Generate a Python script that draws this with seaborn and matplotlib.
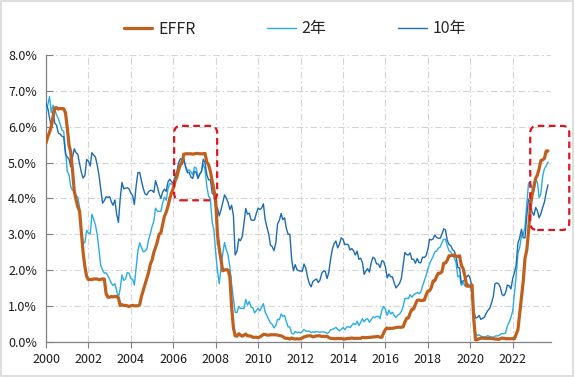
import numpy as np
import pandas as pd
import matplotlib
matplotlib.use("Agg")
import matplotlib.pyplot as plt
import matplotlib.dates as mdates
from matplotlib.patches import FancyBboxPatch, Rectangle
from matplotlib.ticker import FuncFormatter, MultipleLocator
import seaborn as sns

# monthly, Jan 2000 .. Sep 2023 (%)
months = pd.date_range("2000-01-01", "2023-09-01", freq="MS")

effr = [
    5.55, 5.73, 5.85, 6.02, 6.27, 6.53, 6.54, 6.50, 6.52, 6.51, 6.51, 6.40,
    5.98, 5.49, 5.31, 4.80, 4.21, 3.97, 3.77, 3.65, 3.07, 2.49, 2.09, 1.82,
    1.73, 1.74, 1.73, 1.75, 1.75, 1.75, 1.73, 1.74, 1.75, 1.75, 1.34, 1.24,
    1.24, 1.26, 1.25, 1.26, 1.26, 1.22, 1.01, 1.03, 1.01, 1.01, 1.00, 0.98,
    1.00, 1.01, 1.00, 1.00, 1.00, 1.03, 1.26, 1.43, 1.61, 1.76, 1.93, 2.16,
    2.28, 2.50, 2.63, 2.79, 3.00, 3.04, 3.26, 3.50, 3.62, 3.78, 4.00, 4.16,
    4.29, 4.49, 4.59, 4.79, 4.94, 4.99, 5.24, 5.25, 5.25, 5.25, 5.25, 5.24,
    5.25, 5.26, 5.26, 5.25, 5.25, 5.25, 5.26, 5.02, 4.94, 4.76, 4.49, 4.24,
    3.94, 2.98, 2.61, 2.28, 1.98, 2.00, 2.01, 2.00, 1.81, 0.97, 0.39, 0.16,
    0.15, 0.22, 0.18, 0.15, 0.18, 0.21, 0.16, 0.16, 0.15, 0.12, 0.12, 0.12,
    0.11, 0.13, 0.16, 0.20, 0.20, 0.18, 0.18, 0.19, 0.19, 0.19, 0.19, 0.18,
    0.17, 0.16, 0.14, 0.10, 0.09, 0.09, 0.07, 0.10, 0.08, 0.07, 0.08, 0.07,
    0.08, 0.10, 0.13, 0.14, 0.16, 0.16, 0.16, 0.13, 0.14, 0.16, 0.16, 0.16,
    0.14, 0.15, 0.14, 0.15, 0.11, 0.09, 0.09, 0.08, 0.08, 0.09, 0.08, 0.09,
    0.07, 0.07, 0.08, 0.09, 0.09, 0.10, 0.09, 0.09, 0.09, 0.09, 0.09, 0.12,
    0.11, 0.11, 0.11, 0.12, 0.12, 0.13, 0.13, 0.14, 0.14, 0.12, 0.12, 0.24,
    0.34, 0.38, 0.36, 0.37, 0.37, 0.38, 0.39, 0.40, 0.40, 0.40, 0.41, 0.54,
    0.65, 0.66, 0.79, 0.90, 0.91, 1.04, 1.15, 1.16, 1.15, 1.15, 1.16, 1.30,
    1.41, 1.42, 1.51, 1.69, 1.70, 1.82, 1.91, 1.91, 1.95, 2.19, 2.20, 2.27,
    2.40, 2.40, 2.41, 2.42, 2.38, 2.38, 2.40, 2.13, 2.04, 1.83, 1.55, 1.55,
    1.55, 1.58, 0.65, 0.05, 0.05, 0.08, 0.09, 0.10, 0.09, 0.09, 0.09, 0.09,
    0.09, 0.08, 0.07, 0.07, 0.06, 0.08, 0.10, 0.09, 0.08, 0.08, 0.08, 0.08,
    0.08, 0.08, 0.20, 0.33, 0.77, 1.21, 1.68, 2.33, 2.56, 3.08, 3.78, 4.10,
    4.33, 4.57, 4.65, 4.83, 5.06, 5.08, 5.12, 5.33, 5.33,
]

ust2y = [
    6.44, 6.61, 6.85, 6.40, 6.61, 6.48, 6.34, 6.23, 6.08, 5.91, 5.88, 5.35,
    4.76, 4.66, 4.34, 4.23, 4.26, 4.08, 4.04, 3.76, 3.12, 2.73, 2.78, 3.11,
    3.03, 3.02, 3.56, 3.42, 3.26, 2.99, 2.56, 2.13, 2.00, 1.91, 1.92, 1.84,
    1.74, 1.63, 1.57, 1.62, 1.42, 1.23, 1.47, 1.86, 1.71, 1.75, 1.93, 1.91,
    1.76, 1.74, 1.58, 2.07, 2.53, 2.76, 2.64, 2.51, 2.53, 2.58, 2.85, 3.01,
    3.22, 3.38, 3.73, 3.65, 3.64, 3.64, 3.87, 4.04, 3.95, 4.27, 4.42, 4.40,
    4.40, 4.67, 4.73, 4.89, 4.97, 5.12, 5.12, 4.90, 4.77, 4.80, 4.74, 4.67,
    4.88, 4.85, 4.57, 4.67, 4.77, 4.96, 4.82, 4.34, 4.06, 3.99, 3.35, 3.12,
    2.48, 1.97, 1.62, 2.05, 2.45, 2.77, 2.57, 2.42, 2.08, 1.61, 1.21, 0.82,
    0.81, 0.98, 0.93, 0.93, 0.92, 1.18, 1.02, 1.12, 0.96, 0.95, 0.80, 0.87,
    0.93, 0.86, 0.96, 1.06, 0.83, 0.72, 0.62, 0.52, 0.48, 0.38, 0.45, 0.62,
    0.61, 0.77, 0.70, 0.73, 0.56, 0.41, 0.41, 0.23, 0.21, 0.28, 0.25, 0.26,
    0.24, 0.28, 0.34, 0.29, 0.29, 0.29, 0.25, 0.27, 0.26, 0.28, 0.27, 0.26,
    0.27, 0.27, 0.26, 0.23, 0.25, 0.33, 0.34, 0.36, 0.40, 0.34, 0.30, 0.34,
    0.39, 0.33, 0.40, 0.42, 0.39, 0.45, 0.51, 0.47, 0.57, 0.45, 0.53, 0.64,
    0.55, 0.62, 0.64, 0.54, 0.61, 0.69, 0.67, 0.70, 0.71, 0.64, 0.88, 0.98,
    0.90, 0.73, 0.88, 0.77, 0.82, 0.73, 0.67, 0.74, 0.77, 0.84, 0.98, 1.20,
    1.21, 1.20, 1.31, 1.24, 1.30, 1.34, 1.37, 1.34, 1.38, 1.55, 1.70, 1.84,
    2.03, 2.18, 2.28, 2.38, 2.51, 2.53, 2.61, 2.64, 2.77, 2.86, 2.86, 2.68,
    2.54, 2.50, 2.41, 2.34, 2.21, 1.81, 1.84, 1.57, 1.65, 1.55, 1.61, 1.61,
    1.52, 1.33, 0.45, 0.22, 0.17, 0.19, 0.15, 0.14, 0.13, 0.14, 0.17, 0.13,
    0.13, 0.12, 0.15, 0.16, 0.16, 0.20, 0.22, 0.22, 0.24, 0.44, 0.54, 0.67,
    0.86, 1.36, 1.81, 2.46, 2.63, 2.96, 2.99, 3.20, 3.86, 4.43, 4.43, 4.29,
    4.20, 4.51, 4.47, 4.02, 4.13, 4.62, 4.83, 4.91, 5.02,
]

ust10y = [
    6.66, 6.52, 6.26, 5.99, 6.44, 6.10, 6.05, 5.83, 5.80, 5.74, 5.72, 5.24,
    5.16, 5.10, 4.89, 5.14, 5.39, 5.28, 5.24, 4.97, 4.73, 4.57, 4.65, 5.09,
    5.04, 4.91, 5.28, 5.21, 5.16, 4.93, 4.65, 4.26, 3.87, 3.94, 4.05, 4.03,
    4.05, 3.90, 3.81, 3.96, 3.57, 3.33, 3.98, 4.45, 4.27, 4.29, 4.30, 4.27,
    4.15, 4.08, 3.83, 4.35, 4.72, 4.73, 4.50, 4.28, 4.13, 4.10, 4.19, 4.23,
    4.22, 4.17, 4.50, 4.34, 4.14, 4.00, 4.18, 4.26, 4.20, 4.46, 4.54, 4.47,
    4.42, 4.57, 4.72, 4.99, 5.11, 5.11, 5.09, 4.88, 4.72, 4.73, 4.60, 4.56,
    4.76, 4.72, 4.56, 4.69, 4.75, 5.10, 5.00, 4.67, 4.52, 4.53, 4.15, 4.10,
    3.74, 3.74, 3.51, 3.68, 3.88, 4.10, 4.01, 3.89, 3.69, 3.81, 3.53, 2.42,
    2.52, 2.87, 2.82, 2.93, 3.29, 3.72, 3.56, 3.59, 3.40, 3.39, 3.40, 3.59,
    3.73, 3.69, 3.73, 3.85, 3.42, 3.20, 3.01, 2.70, 2.65, 2.54, 2.76, 3.29,
    3.39, 3.58, 3.41, 3.46, 3.17, 3.00, 3.00, 2.30, 1.98, 2.15, 2.01, 1.98,
    1.97, 1.97, 2.17, 2.05, 1.80, 1.62, 1.53, 1.68, 1.72, 1.75, 1.65, 1.72,
    1.91, 1.98, 1.96, 1.76, 1.93, 2.30, 2.58, 2.74, 2.81, 2.62, 2.72, 2.90,
    2.86, 2.71, 2.72, 2.71, 2.56, 2.60, 2.54, 2.42, 2.53, 2.30, 2.33, 2.21,
    1.88, 1.98, 2.04, 1.94, 2.20, 2.36, 2.32, 2.17, 2.17, 2.07, 2.26, 2.24,
    2.09, 1.78, 1.89, 1.81, 1.81, 1.64, 1.50, 1.56, 1.63, 1.76, 2.14, 2.49,
    2.43, 2.42, 2.48, 2.30, 2.30, 2.19, 2.32, 2.21, 2.20, 2.36, 2.35, 2.40,
    2.58, 2.86, 2.84, 2.87, 2.98, 2.91, 2.89, 2.89, 3.00, 3.15, 3.12, 2.83,
    2.71, 2.68, 2.57, 2.53, 2.40, 2.07, 2.06, 1.63, 1.70, 1.71, 1.81, 1.86,
    1.76, 1.50, 0.87, 0.66, 0.67, 0.73, 0.62, 0.65, 0.68, 0.79, 0.87, 0.93,
    1.08, 1.26, 1.61, 1.64, 1.62, 1.52, 1.32, 1.28, 1.37, 1.58, 1.56, 1.47,
    1.76, 1.93, 2.13, 2.75, 2.90, 3.14, 2.90, 2.90, 3.52, 3.98, 3.89, 3.62,
    3.53, 3.75, 3.66, 3.46, 3.57, 3.75, 3.90, 4.17, 4.38,
]

series_names = ["EFFR", "2年", "10年"]
series_colors = ["#C0601E", "#2AADE3", "#1F6BB0"]

# highlighted periods: (start, end, low %, high %)
highlight_boxes = [
    ("2006-01-15", "2008-01-26", 3.95, 6.03),
    ("2022-10-30", "2024-09-01", 3.12, 6.03),
]

sns.set_theme(style="white")
plt.rcParams["font.family"] = ["Noto Sans CJK SC", "DejaVu Sans"]

fig, ax = plt.subplots(figsize=(5.75, 3.77), dpi=100)
fig.subplots_adjust(left=0.080, right=0.958, top=0.853, bottom=0.094)

df = pd.DataFrame({"date": months, "EFFR": effr, "2年": ust2y, "10年": ust10y})

sns.lineplot(data=df, x="date", y="2年", color=series_colors[1], lw=1.0,
             label="2年", ax=ax, zorder=3)
sns.lineplot(data=df, x="date", y="10年", color=series_colors[2], lw=1.0,
             label="10年", ax=ax, zorder=3)
sns.lineplot(data=df, x="date", y="EFFR", color=series_colors[0], lw=2.3,
             label="EFFR", ax=ax, zorder=4)

ax.set_xlim(pd.Timestamp("2000-01-01"), pd.Timestamp("2023-10-20"))
ax.set_ylim(0, 8)
ax.xaxis.set_major_locator(mdates.YearLocator(2))
ax.xaxis.set_major_formatter(mdates.DateFormatter("%Y"))
ax.yaxis.set_major_locator(MultipleLocator(1))
ax.yaxis.set_major_formatter(FuncFormatter(lambda v, p: f"{v:.1f}%"))
ax.set_xlabel("")
ax.set_ylabel("")

ax.grid(True, color="#D4D4D4", lw=0.8, linestyle=(0, (6, 2.5, 1.5, 2.5)))
ax.set_axisbelow(True)
for side in ["top", "right"]:
    ax.spines[side].set_visible(False)
for side in ["left", "bottom"]:
    ax.spines[side].set_color("#808080")
    ax.spines[side].set_linewidth(0.9)

ax.tick_params(axis="x", direction="out", length=4, width=0.8, color="#808080",
               pad=4, labelsize=9, labelcolor="#1a1a1a", bottom=True)
ax.tick_params(axis="y", direction="in", length=5, width=0.8, color="#808080",
               pad=6.5, labelsize=9, labelcolor="#1a1a1a", left=True)

# rounded dashed highlight boxes
xpx = 365.25 / 21.2        # days per pixel
ypx = 1 / 35.75            # percent per pixel
for start, end, lo, hi in highlight_boxes:
    x0 = mdates.date2num(pd.Timestamp(start))
    x1 = mdates.date2num(pd.Timestamp(end))
    box = FancyBboxPatch((x0, lo), x1 - x0, hi - lo,
                         boxstyle=f"round,pad=0,rounding_size={7 * xpx}",
                         mutation_aspect=ypx / xpx, fill=False,
                         edgecolor="#E0141E", lw=1.6, linestyle=(0, (3, 2)),
                         clip_on=False, zorder=6)
    ax.add_patch(box)

handles, labels = ax.get_legend_handles_labels()
order = [labels.index(n) for n in series_names]
ax.legend([handles[i] for i in order], [labels[i] for i in order],
          loc="center", bbox_to_anchor=(295 / 575, 1 - 29 / 377),
          bbox_transform=fig.transFigure, ncol=3, frameon=False,
          fontsize=11.5, handlelength=1.8, handletextpad=0.35,
          columnspacing=4.5)

fig.patches.append(Rectangle((0.002, 0.003), 0.995, 0.994, transform=fig.transFigure,
                             fill=False, edgecolor="#D9D9D9", lw=1.2))

fig.savefig("out.png", dpi=100)
